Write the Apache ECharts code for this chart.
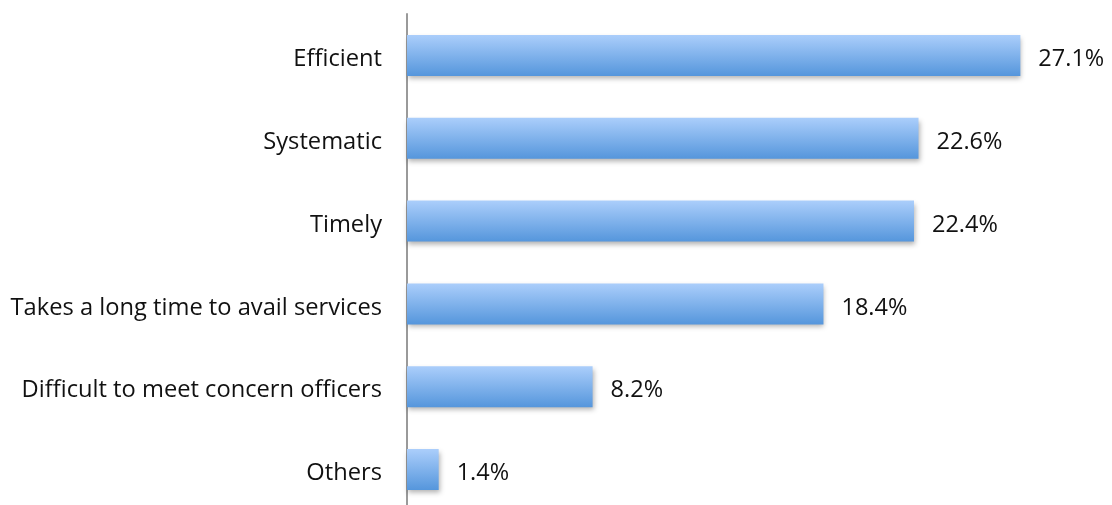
<!DOCTYPE html>
<html>
<head>
<meta charset="utf-8">
<script src="https://cdn.jsdelivr.net/npm/echarts@6/dist/echarts.min.js"></script>
<style>html,body{margin:0;padding:0;background:#fff}#c{width:1112px;height:505px}</style>
</head>
<body>
<div id="c"></div>
<script>
const categories = ["Efficient", "Systematic", "Timely", "Takes a long time to avail services", "Difficult to meet concern officers", "Others"];
const values = [27.1, 22.6, 22.4, 18.4, 8.2, 1.4];

const chart = echarts.init(document.getElementById('c'), null, {renderer: 'canvas'});
chart.setOption({
  animation: false,
  grid: {left: 407, width: 679, top: 14, height: 497, containLabel: false, outerBoundsMode: 'none'},
  xAxis: {
    type: 'value', min: 0, max: 30, show: false
  },
  yAxis: {
    type: 'category', data: categories, inverse: true,
    axisLine: {show: true, lineStyle: {color: '#9a9a9a', width: 2}},
    axisTick: {show: false},
    axisLabel: {color: '#111', fontFamily: 'Open Sans', fontSize: 23.7, margin: 25,
      verticalAlign: 'top', lineHeight: 8}
  },
  series: [{
    type: 'bar', data: values, barWidth: 41,
    itemStyle: {
      color: new echarts.graphic.LinearGradient(0, 0, 0, 1, [
        {offset: 0, color: '#abcefb'},
        {offset: 1, color: '#5596dc'}
      ]),
      shadowColor: 'rgba(0,0,0,0.3)', shadowBlur: 5, shadowOffsetY: 3, shadowOffsetX: 1
    },
    label: {
      show: true, position: 'right', distance: 18, color: '#111',
      fontFamily: 'Open Sans', fontSize: 23.5, offset: [0, 4],
      formatter: p => p.value.toFixed(1) + '%'
    }
  }]
});
</script>
</body>
</html>
